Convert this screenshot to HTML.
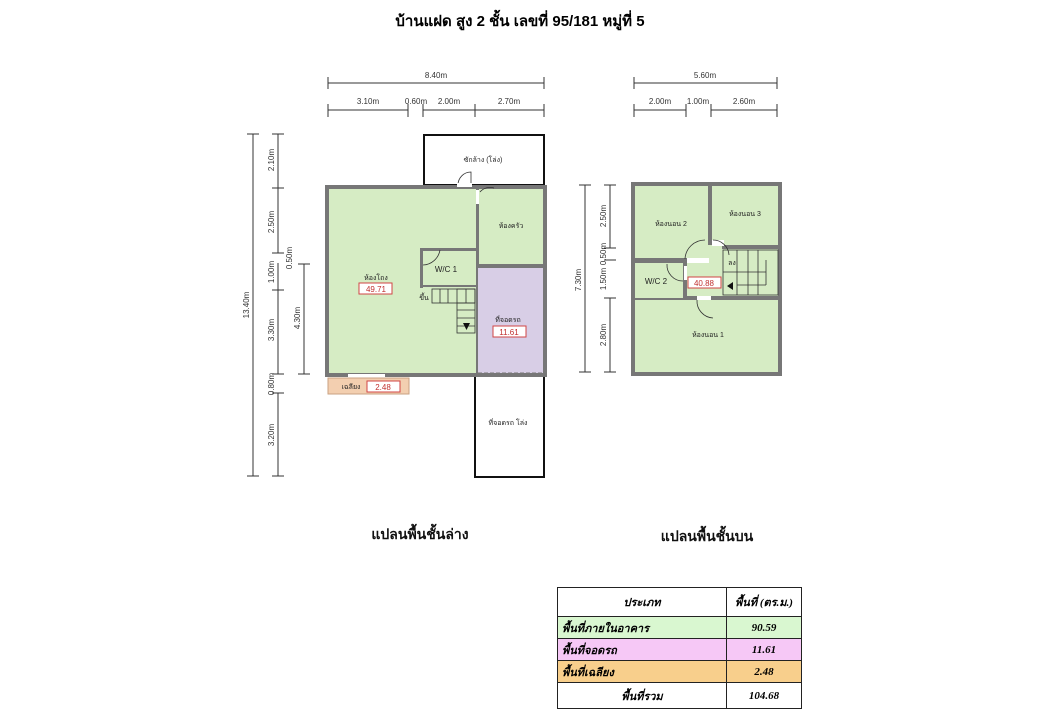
<!DOCTYPE html>
<html><head><meta charset="utf-8">
<style>
body{margin:0;background:#fff;width:1040px;height:720px;overflow:hidden;font-family:"Liberation Sans",sans-serif;}
svg{position:absolute;left:0;top:0}
table{position:absolute;left:557px;top:587px;width:245px;border-collapse:collapse;font-family:"Liberation Serif",serif;font-style:italic;font-weight:bold;font-size:11px}
td{border:1px solid #222;padding:0 4px;height:21px}
</style></head><body>
<svg width="1040" height="720" viewBox="0 0 1040 720" font-family="Liberation Sans, sans-serif">
<text x="520" y="26" text-anchor="middle" font-size="15" font-weight="bold">บ้านแฝด สูง 2 ชั้น เลขที่ 95/181 หมู่ที่ 5</text>
<g stroke="#333" stroke-width="1" fill="none">
<!-- ground dims top -->
<line x1="328" y1="83" x2="544" y2="83"/><line x1="328" y1="77" x2="328" y2="89"/><line x1="544" y1="77" x2="544" y2="89"/>
<line x1="328" y1="110" x2="408" y2="110"/><line x1="423" y1="110" x2="544" y2="110"/>
<line x1="328" y1="104" x2="328" y2="117"/><line x1="408" y1="104" x2="408" y2="117"/><line x1="423" y1="104" x2="423" y2="117"/><line x1="475" y1="104" x2="475" y2="117"/><line x1="544" y1="104" x2="544" y2="117"/>
<!-- ground dims left -->
<line x1="253" y1="134" x2="253" y2="476"/><line x1="247" y1="134" x2="259" y2="134"/><line x1="247" y1="476" x2="259" y2="476"/>
<line x1="278" y1="134" x2="278" y2="253"/><line x1="278" y1="263" x2="278" y2="374"/><line x1="278" y1="393" x2="278" y2="476"/>
<line x1="272" y1="134" x2="284" y2="134"/><line x1="272" y1="188" x2="284" y2="188"/><line x1="272" y1="253" x2="284" y2="253"/><line x1="272" y1="290" x2="284" y2="290"/><line x1="272" y1="374" x2="284" y2="374"/><line x1="272" y1="393" x2="284" y2="393"/><line x1="272" y1="476" x2="284" y2="476"/>
<line x1="304" y1="264" x2="304" y2="374"/><line x1="298" y1="264" x2="310" y2="264"/><line x1="298" y1="374" x2="310" y2="374"/>
<!-- upper dims -->
<line x1="634" y1="83" x2="777" y2="83"/><line x1="634" y1="77" x2="634" y2="89"/><line x1="777" y1="77" x2="777" y2="89"/>
<line x1="634" y1="110" x2="686" y2="110"/><line x1="711" y1="110" x2="777" y2="110"/>
<line x1="634" y1="104" x2="634" y2="117"/><line x1="686" y1="104" x2="686" y2="117"/><line x1="711" y1="104" x2="711" y2="117"/><line x1="777" y1="104" x2="777" y2="117"/>
<line x1="585" y1="185" x2="585" y2="372"/><line x1="579" y1="185" x2="591" y2="185"/><line x1="579" y1="372" x2="591" y2="372"/>
<line x1="610" y1="185" x2="610" y2="248"/><line x1="610" y1="298" x2="610" y2="372"/>
<line x1="604" y1="185" x2="616" y2="185"/><line x1="604" y1="248" x2="616" y2="248"/><line x1="604" y1="260" x2="616" y2="260"/><line x1="604" y1="298" x2="616" y2="298"/><line x1="604" y1="372" x2="616" y2="372"/>
</g>
<g font-size="8" fill="#333" text-anchor="middle">
<text x="436" y="78">8.40m</text>
<text x="368" y="104">3.10m</text><text x="416" y="104">0.60m</text><text x="449" y="104">2.00m</text><text x="509" y="104">2.70m</text>
<text x="705" y="78">5.60m</text>
<text x="660" y="104">2.00m</text><text x="698" y="104">1.00m</text><text x="744" y="104">2.60m</text>
<g transform="rotate(-90)">
<text x="-305" y="249">13.40m</text>
<text x="-160" y="274">2.10m</text><text x="-222" y="274">2.50m</text><text x="-272" y="274">1.00m</text><text x="-330" y="274">3.30m</text><text x="-384" y="274">0.80m</text><text x="-435" y="274">3.20m</text>
<text x="-258" y="292">0.50m</text><text x="-318" y="300">4.30m</text>
<text x="-280" y="581">7.30m</text>
<text x="-216" y="606">2.50m</text><text x="-254" y="606">0.50m</text><text x="-279" y="606">1.50m</text><text x="-335" y="606">2.80m</text>
</g></g>
<!-- ground floor -->
<rect x="424" y="135" width="120" height="50" fill="#fff" stroke="#111" stroke-width="2"/>
<rect x="475" y="373" width="69" height="104" fill="#fff" stroke="#111" stroke-width="2"/>
<rect x="325" y="185" width="222" height="192" fill="#777"/>
<rect x="329" y="189" width="147" height="184" fill="#d6ecc4"/>
<rect x="479" y="189" width="64" height="75" fill="#d6ecc4"/>
<rect x="478" y="268" width="65" height="105" fill="#d8cee6"/>
<line x1="478" y1="373" x2="543" y2="373" stroke="#777" stroke-dasharray="4,2"/>
<rect x="420" y="248" width="57" height="3" fill="#777"/><rect x="420" y="248" width="3" height="40" fill="#777"/>
<rect x="423" y="285" width="54" height="2" fill="#777"/>
<g stroke="#333" fill="none" stroke-width="0.8">
<rect x="432" y="289" width="43" height="14"/><rect x="457" y="289" width="18" height="44"/>
<line x1="440" y1="289" x2="440" y2="303"/><line x1="448" y1="289" x2="448" y2="303"/><line x1="457" y1="303" x2="475" y2="303"/><line x1="457" y1="310" x2="475" y2="310"/><line x1="457" y1="318" x2="475" y2="318"/><line x1="457" y1="326" x2="475" y2="326"/><line x1="466" y1="289" x2="466" y2="303"/>
<path d="M458 185 A 13 13 0 0 1 471 172 V185"/><path d="M480 192 A 13 13 0 0 1 494 188" />
<path d="M423 265 A 18 18 0 0 0 440 250"/>
</g>
<rect x="457" y="183" width="15" height="4" fill="#fff"/><rect x="476" y="190" width="3" height="14" fill="#fff"/>
<rect x="348" y="374" width="37" height="3" fill="#fff"/>
<polygon points="463,323 470,323 466.5,330" fill="#111"/>
<rect x="328" y="378" width="81" height="16" fill="#f3cfb0" stroke="#c9a282"/>
<g font-size="7" fill="#222" text-anchor="middle">
<text x="483" y="162">ซักล้าง (โล่ง)</text><text x="511" y="228">ห้องครัว</text>
<text x="376" y="280">ห้องโถง</text><text x="446" y="272" font-size="8">W/C 1</text><text x="424" y="300">ขึ้น</text>
<text x="508" y="322">ที่จอดรถ</text><text x="508" y="425">ที่จอดรถ โล่ง</text><text x="351" y="389">เฉลียง</text>
</g>
<g font-size="8" fill="#c0302f" text-anchor="middle">
<rect x="359" y="283" width="33" height="11" fill="#fff" stroke="#d04545"/><text x="376" y="292">49.71</text>
<rect x="493" y="326" width="33" height="11" fill="#fff" stroke="#d04545"/><text x="509" y="335">11.61</text>
<rect x="367" y="381" width="33" height="11" fill="#fff" stroke="#d04545"/><text x="383" y="390">2.48</text>
</g>
<!-- upper floor -->
<rect x="631" y="182" width="151" height="194" fill="#777"/>
<rect x="635" y="186" width="73" height="72" fill="#d6ecc4"/>
<rect x="712" y="186" width="66" height="59" fill="#d6ecc4"/>
<rect x="635" y="263" width="48" height="35" fill="#d6ecc4"/>
<rect x="687" y="249" width="91" height="47" fill="#d6ecc4"/>
<rect x="708" y="245" width="14" height="20" fill="#d6ecc4"/>
<rect x="635" y="300" width="143" height="72" fill="#d6ecc4"/>
<rect x="687" y="258" width="22" height="5" fill="#fff"/><rect x="684" y="266" width="3" height="14" fill="#fff"/>
<rect x="697" y="296" width="14" height="4" fill="#fff"/><rect x="712" y="240" width="12" height="6" fill="#fff"/>
<g stroke="#333" fill="none" stroke-width="0.8">
<rect x="723" y="250" width="55" height="45"/><line x1="737" y1="250" x2="737" y2="295"/><line x1="748" y1="250" x2="748" y2="295"/><line x1="758" y1="250" x2="758" y2="295"/>
<line x1="723" y1="272" x2="766" y2="272"/><line x1="766" y1="260" x2="766" y2="285"/><line x1="737" y1="285" x2="766" y2="285"/>
<path d="M685 259 A 20 20 0 0 1 705 240"/><path d="M683 281 A 16 16 0 0 1 667 264"/><path d="M713 240 A 16 16 0 0 1 729 255"/><path d="M697 300 A 17 17 0 0 0 713 318"/>
</g>
<polygon points="727,286 733,282 733,290" fill="#111"/>
<g font-size="7" fill="#222" text-anchor="middle">
<text x="671" y="226">ห้องนอน 2</text><text x="745" y="216">ห้องนอน 3</text><text x="656" y="284" font-size="8">W/C 2</text>
<text x="708" y="337">ห้องนอน 1</text><text x="732" y="265">ลง</text>
</g>
<rect x="688" y="277" width="33" height="11" fill="#fff" stroke="#d04545"/><text x="704" y="286" font-size="8" fill="#c0302f" text-anchor="middle">40.88</text>
<g font-size="14" font-weight="bold" text-anchor="middle" fill="#111">
<text x="420" y="539">แปลนพื้นชั้นล่าง</text><text x="707" y="541">แปลนพื้นชั้นบน</text>
</g>
</svg>
<table>
<tr style="height:29px"><td style="text-align:center;width:160px;height:27px">ประเภท</td><td style="text-align:center">พื้นที่ (ตร.ม.)</td></tr>
<tr style="background:#d9f7d0"><td>พื้นที่ภายในอาคาร</td><td style="text-align:center">90.59</td></tr>
<tr style="background:#f6c8f6"><td>พื้นที่จอดรถ</td><td style="text-align:center">11.61</td></tr>
<tr style="background:#f8cf8c"><td>พื้นที่เฉลียง</td><td style="text-align:center">2.48</td></tr>
<tr><td style="text-align:center;height:25px">พื้นที่รวม</td><td style="text-align:center">104.68</td></tr>
</table>
</body></html>
